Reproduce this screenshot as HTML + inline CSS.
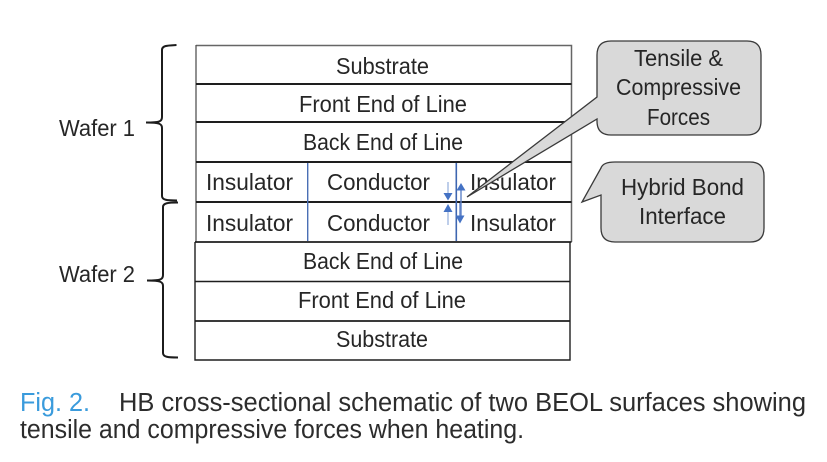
<!DOCTYPE html>
<html>
<head>
<meta charset="utf-8">
<style>
html,body{margin:0;padding:0;background:#fff;width:827px;height:462px;overflow:hidden}
svg{display:block;filter:blur(0.35px)}
text{font-family:"Liberation Sans",sans-serif;fill:#262626;font-size:23px}
.c{font-size:25.5px;fill:#2c2c2c}
</style>
</head>
<body>
<svg width="827" height="462" viewBox="0 0 827 462" xmlns="http://www.w3.org/2000/svg">
<rect width="827" height="462" fill="#fff"/>
<!-- stack -->
<g fill="none" stroke="#1e1e1e">
<path d="M196 45.5H571.5V242" stroke="#666" stroke-width="1.5"/>
<path d="M196 45V242" stroke="#555" stroke-width="1.3"/>
<path d="M196 84H571.5" stroke-width="2"/>
<path d="M196 122H571.5" stroke-width="2"/>
<path d="M196 162H571.5" stroke-width="2"/>
<path d="M196 202H571.5" stroke-width="2"/>
<path d="M195 242H571.5" stroke-width="1.8"/>
<path d="M195 242V360H570V242" stroke-width="1.4"/>
<path d="M195 281.5H570" stroke-width="1.6"/>
<path d="M195 321H570" stroke-width="1.8"/>
</g>
<path d="M307.7 163V241" stroke="#4a6fb5" stroke-width="1.4" fill="none"/>
<path d="M456.3 163V241" stroke="#3e66b0" stroke-width="1.6" fill="none"/>
<!-- braces -->
<g fill="none" stroke="#1c1c1c" stroke-width="2">
<path d="M176.500 45C167 45.500 162 45.500 162 50V117C162 121.500 160 122.500 146 122.500C160 122.500 162 124 162 128V196C162 200 167 200.500 177 200.500"/>
<path d="M178 202.500C168 202.500 163 203 163 207V275C163 279.500 161 280.500 147 280.500C161 280.500 163 282 163 286V353C163 357 168 357.500 178 357.500"/>
</g>
<!-- blue arrows -->
<g fill="none" stroke="#a9bde3" stroke-width="1.5">
<path d="M448 182V194"/><path d="M448 212V225"/>
</g>
<g fill="none" stroke="#5f83c8" stroke-width="1.4">
<path d="M461 190V216"/><path d="M460 203V216"/>
</g>
<g fill="#4472c4">
<path d="M443.500 193H452.500L448 200.500Z"/>
<path d="M443.500 212H452.500L448 204Z"/>
<path d="M456.500 190.500H465.500L461 183Z"/>
<path d="M455.500 215.500H464.500L460 223.500Z"/>
</g>
<!-- labels under the callout tail -->
<text x="470" y="190" textLength="86" lengthAdjust="spacingAndGlyphs">Insulator</text>
<!-- callouts -->
<path d="M611 41H747Q761 41 761 55V121Q761 135 747 135H611Q597 135 597 121V119L467 197L597 97V55Q597 41 611 41Z" fill="#d9d9d9" stroke="#3a3a3a" stroke-width="1.3"/>
<path d="M615 162H750Q764 162 764 176V228Q764 242 750 242H615Q601 242 601 228V195L582 202L601 168Q603 162 615 162Z" fill="#d9d9d9" stroke="#3a3a3a" stroke-width="1.3"/>
<!-- labels -->
<g>
<text x="336" y="74" textLength="93" lengthAdjust="spacingAndGlyphs">Substrate</text>
<text x="299" y="112" textLength="168" lengthAdjust="spacingAndGlyphs">Front End of Line</text>
<text x="303" y="150" textLength="160" lengthAdjust="spacingAndGlyphs">Back End of Line</text>
<text x="206" y="190" textLength="87" lengthAdjust="spacingAndGlyphs">Insulator</text>
<text x="327" y="190" textLength="103" lengthAdjust="spacingAndGlyphs">Conductor</text>
<text x="206" y="231" textLength="87" lengthAdjust="spacingAndGlyphs">Insulator</text>
<text x="327" y="231" textLength="103" lengthAdjust="spacingAndGlyphs">Conductor</text>
<text x="470" y="231" textLength="86" lengthAdjust="spacingAndGlyphs">Insulator</text>
<text x="303" y="269" textLength="160" lengthAdjust="spacingAndGlyphs">Back End of Line</text>
<text x="298" y="308" textLength="168" lengthAdjust="spacingAndGlyphs">Front End of Line</text>
<text x="336" y="347" textLength="92" lengthAdjust="spacingAndGlyphs">Substrate</text>
<text x="59" y="136" textLength="76" lengthAdjust="spacingAndGlyphs">Wafer 1</text>
<text x="59" y="282" textLength="76" lengthAdjust="spacingAndGlyphs">Wafer 2</text>
<text x="634" y="66" textLength="89" lengthAdjust="spacingAndGlyphs">Tensile &amp;</text>
<text x="616" y="95" textLength="125" lengthAdjust="spacingAndGlyphs">Compressive</text>
<text x="647" y="125" textLength="63" lengthAdjust="spacingAndGlyphs">Forces</text>
<text x="621" y="195" textLength="123" lengthAdjust="spacingAndGlyphs">Hybrid Bond</text>
<text x="639" y="224" textLength="87" lengthAdjust="spacingAndGlyphs">Interface</text>
</g>
<!-- caption -->
<text class="c" x="20" y="411" textLength="70" lengthAdjust="spacingAndGlyphs" style="fill:#3a9bdc">Fig. 2.</text>
<text class="c" x="119" y="411" textLength="687" lengthAdjust="spacingAndGlyphs">HB cross-sectional schematic of two BEOL surfaces showing</text>
<text class="c" x="20" y="438" textLength="504" lengthAdjust="spacingAndGlyphs">tensile and compressive forces when heating.</text>
</svg>
</body>
</html>
